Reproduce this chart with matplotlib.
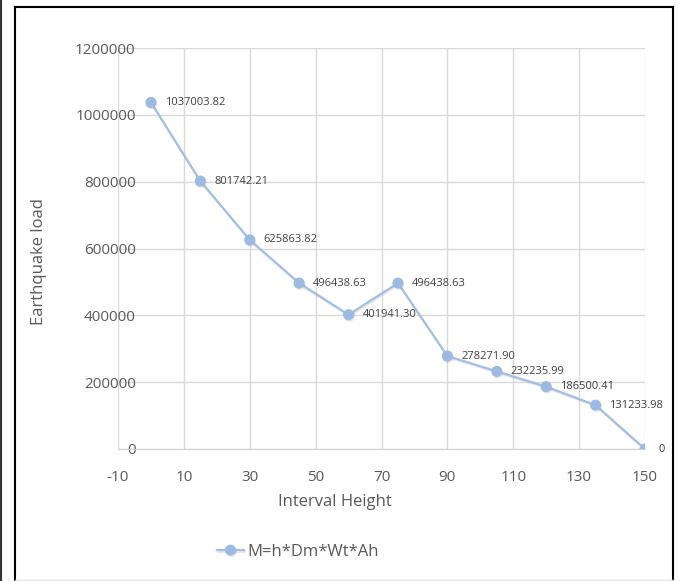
import matplotlib
matplotlib.use("Agg")
import matplotlib.pyplot as plt
import matplotlib.patheffects as pe
from matplotlib import font_manager
from matplotlib.lines import Line2D

# datos
altura = [0, 15, 30, 45, 60, 75, 90, 105, 120, 135, 150]
carga = [1037003.82, 801742.21, 625863.82, 496438.63, 401941.30, 496438.63,
         278271.90, 232235.99, 186500.41, 131233.98, 0]
etiquetas = ["1037003.82", "801742.21", "625863.82", "496438.63", "401941.30",
             "496438.63", "278271.90", "232235.99", "186500.41", "131233.98", "0"]
x_ticks = [-10, 10, 30, 50, 70, 90, 110, 130, 150]
y_ticks = [0, 200000, 400000, 600000, 800000, 1000000, 1200000]
serie = "M=h*Dm*Wt*Ah"

# fuente estrecha parecida a Calibri si existe
nombres = {f.name for f in font_manager.fontManager.ttflist}
if "Liberation Sans Narrow" in nombres:
    fuente = "Liberation Sans Narrow"
else:
    fuente = "Open Sans"
plt.rcParams["font.family"] = [fuente, "DejaVu Sans"]
plt.rcParams["axes.unicode_minus"] = False

gris = "#595959"
azul = "#a3bfe3"

fig = plt.figure(figsize=(6.8, 5.81), dpi=100)
ax = fig.add_axes([118 / 680, 132 / 581, 527 / 680, 401 / 581])

sombra = [pe.SimpleLineShadow(offset=(0.6, -1), shadow_color="gray", alpha=0.18), pe.Normal()]
linea, = ax.plot(altura, carga, color=azul, lw=1.6, marker="o", markersize=7,
                 markerfacecolor="#9dbae2", markeredgecolor="#9dbae2",
                 label=serie, zorder=3, path_effects=sombra)

for xi, yi, t in zip(altura, carga, etiquetas):
    ax.annotate(t, (xi, yi), xytext=(10, 0), textcoords="offset points",
                ha="left", va="center", fontsize=8, color="#404040", zorder=4)

ax.set_xlim(-10, 150)
ax.set_ylim(0, 1200000)
ax.set_xticks(x_ticks)
ax.set_yticks(y_ticks)
ax.set_yticklabels([str(v) for v in y_ticks])

ax.grid(True, color="#d9d9d9", lw=1)
ax.set_axisbelow(True)

ax.spines["left"].set_position(("data", 0))
ax.spines["left"].set_visible(False)
ax.spines["top"].set_visible(False)
ax.spines["right"].set_visible(False)
ax.spines["bottom"].set_color("#d0d0d0")
ax.tick_params(axis="y", length=0, pad=11, labelsize=11, labelcolor=gris)
ax.tick_params(axis="x", length=0, pad=15, labelsize=11, labelcolor=gris)

ax.set_xlabel("Interval Height", fontsize=12, color=gris)
ax.set_ylabel("Earthquake load", fontsize=12, color=gris)
ax.xaxis.set_label_coords((335 - 118) / 527, (449 - 494) / 401)
ax.yaxis.set_label_coords((47 - 118) / 527, (449 - 262) / 401)

fig.legend(handles=[linea], loc="center", bbox_to_anchor=(298 / 680, 1 - 552 / 581),
           frameon=False, fontsize=12, labelcolor=gris, handlelength=1.6,
           handletextpad=0.2)

# marco de la imagen
fig.add_artist(Line2D([15 / 680, 15 / 680], [0, 1 - 7 / 581], color="black", lw=1.5, transform=fig.transFigure))
fig.add_artist(Line2D([15 / 680, 673 / 680], [1 - 7 / 581, 1 - 7 / 581], color="black", lw=1.5, transform=fig.transFigure))
fig.add_artist(Line2D([673 / 680, 673 / 680], [0, 1 - 7 / 581], color="black", lw=1.5, transform=fig.transFigure))
fig.add_artist(Line2D([15 / 680, 673 / 680], [1 / 581, 1 / 581], color="#e0e0e0", lw=1, transform=fig.transFigure))
fig.add_artist(Line2D([1 / 680, 1 / 680], [0, 1], color="#333333", lw=1.5, transform=fig.transFigure))

fig.savefig("out.png", dpi=100)
